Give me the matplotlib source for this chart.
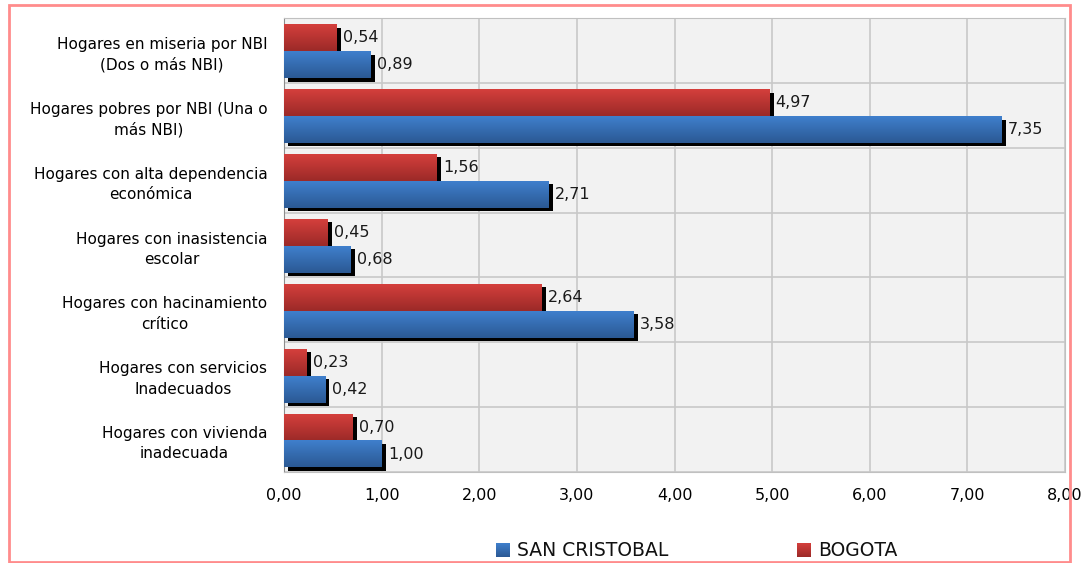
import numpy as np
import matplotlib
matplotlib.use("Agg")
import matplotlib.pyplot as plt
from matplotlib.patches import Rectangle

categorias = [
    "Hogares en miseria por NBI\n(Dos o más NBI)",
    "Hogares pobres por NBI (Una o\nmás NBI)",
    "Hogares con alta dependencia\neconómica",
    "Hogares con inasistencia\nescolar",
    "Hogares con hacinamiento\ncrítico",
    "Hogares con servicios\nInadecuados",
    "Hogares con vivienda\ninadecuada",
]
san_cristobal = [0.89, 7.35, 2.71, 0.68, 3.58, 0.42, 1.00]
bogota = [0.54, 4.97, 1.56, 0.45, 2.64, 0.23, 0.70]
xticks = [0, 1, 2, 3, 4, 5, 6, 7, 8]

plt.rcParams['font.family'] = ['DejaVu Sans']

fig = plt.figure(figsize=(10.85, 5.63), dpi=100)
ax = fig.add_axes([0.2618, 0.1616, 0.7198, 0.8064])
ax.set_facecolor("#f2f2f2")

n = len(categorias)
ypos = np.arange(n)[::-1]
h = 0.415
dx, dy = 0.045, 0.05

def grad(c_top, c_bot):
    t = np.linspace(0, 1, 32)[:, None]
    a = np.array(matplotlib.colors.to_rgb(c_top))
    b = np.array(matplotlib.colors.to_rgb(c_bot))
    return (a * (1 - t) + b * t)[:, None, :].reshape(32, 1, 3)

g_red = grad("#d43f3c", "#9c2a28")
g_blue = grad("#3f7fcc", "#2b5994")

for y, vb, vs in zip(ypos, bogota, san_cristobal):
    for v, yc, g in [(vb, y + h / 2 - 0.015, g_red), (vs, y - h / 2 - 0.015, g_blue)]:
        y0, y1 = yc - h / 2, yc + h / 2
        ax.add_patch(Rectangle((dx, y0 - dy), v, h, color="black", zorder=2, lw=0))
        ax.imshow(g, extent=[0, v, y0, y1], aspect="auto", origin="upper",
                  zorder=3, interpolation="bilinear")
        ax.annotate(f"{v:.2f}".replace(".", ","), (v + dx, yc), xytext=(1.5, 0),
                    textcoords="offset points", va="center", ha="left",
                    fontsize=11.5, color="#1a1a1a", zorder=4)

ax.set_xlim(0, 8)
ax.set_ylim(-0.5, n - 0.5)
ax.set_xticks(xticks)
ax.set_xticklabels([f"{x:.2f}".replace(".", ",") for x in xticks], fontsize=11.5)
ax.set_yticks(ypos)
ax.set_yticklabels(categorias, fontsize=11)
for lab in ax.get_yticklabels():
    lab.set_multialignment("center")
    lab.set_linespacing(1.45)
ax.set_yticks(np.arange(-0.5, n, 1), minor=True)
ax.tick_params(axis="y", which="both", length=0, pad=12)
ax.tick_params(axis="x", length=0, pad=11.5)
ax.grid(axis="x", color="#c8c8c8", lw=1.2, zorder=1)
ax.grid(axis="y", which="minor", color="#c8c8c8", lw=1.2, zorder=1)
ax.set_axisbelow(True)
for s in ax.spines.values():
    s.set_color("#c0c0c0")
ax.spines["left"].set_color("#8c8c8c")

# legend
W, H = 1085, 563
for x0, g, txt in [(496, g_blue, "SAN CRISTOBAL"), (797, g_red, "BOGOTA")]:
    lax = fig.add_axes([x0 / W, (H - 557) / H, 14 / W, 14 / H])
    lax.imshow(g, aspect="auto")
    lax.axis("off")
    fig.text((x0 + 21) / W, (H - 550) / H, txt, fontsize=13.5, va="center", ha="left",
             color="#111111")

fig.patches.append(Rectangle((9 / W, 1 / H), 1061 / W, 557 / H, transform=fig.transFigure,
                             fill=False, edgecolor="#ff8c8c", lw=2))

fig.savefig("out.png", dpi=100)
